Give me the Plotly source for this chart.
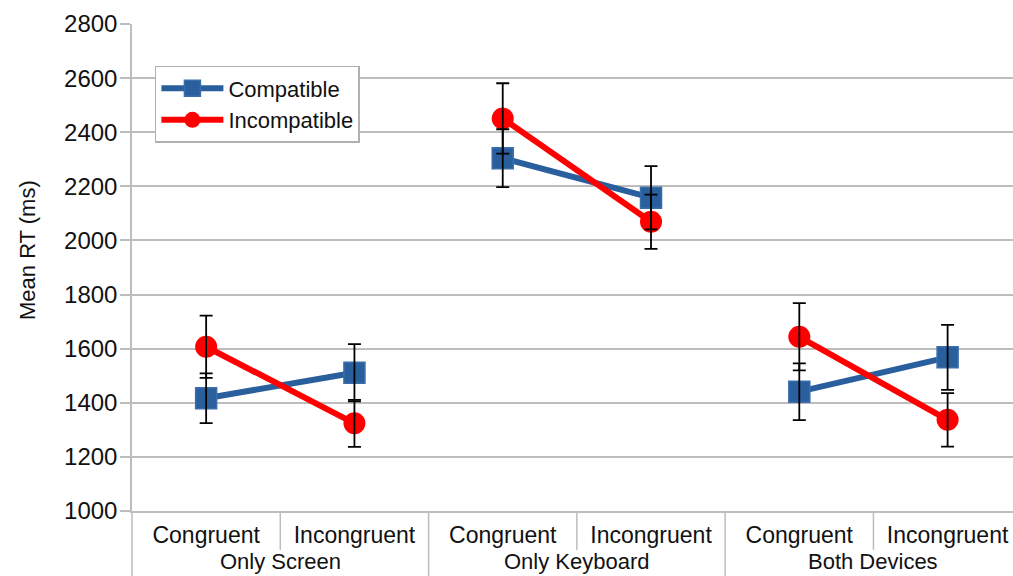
import plotly.graph_objects as go

# Reaction-time means (ms) and error margins per condition
groups = ["Only Screen", "Only Keyboard", "Both Devices"]
conditions = ["Congruent", "Incongruent"]
tick_labels = [c for g in groups for c in conditions]

compatible = [1417, 1511, 2304, 2158, 1441, 1568]
compatible_err = [92, 106, 107, 117, 105, 120]
incompatible = [1607, 1324, 2451, 2069, 1644, 1337]
incompatible_err = [115, 87, 130, 100, 124, 99]

BLUE = "#2A5F9E"
RED = "#FF0000"
GRID = "#BDBDBD"
FONT = "Liberation Sans, Arial, sans-serif"
TEXT = "#111111"

n = len(tick_labels)
xs = list(range(n))
x_range = [-0.5, 5.441]


def split_groups(values):
    """Insert gaps so each group is drawn as its own segment."""
    gx, gy = [], []
    for gi in range(len(groups)):
        for ci in range(len(conditions)):
            k = gi * len(conditions) + ci
            gx.append(xs[k])
            gy.append(values[k])
        gx.append(None)
        gy.append(None)
    return gx, gy


fig = go.Figure()

cx, cy = split_groups(compatible)
fig.add_trace(go.Scatter(
    x=cx, y=cy, name="Compatible", mode="lines+markers",
    line=dict(color=BLUE, width=6),
    marker=dict(symbol="square", size=21, color=BLUE,
                line=dict(color="#3A6EAA", width=1.5)),
    connectgaps=False,
))
ix, iy = split_groups(incompatible)
fig.add_trace(go.Scatter(
    x=ix, y=iy, name="Incompatible", mode="lines+markers",
    line=dict(color=RED, width=6),
    marker=dict(symbol="circle", size=22, color=RED),
    connectgaps=False,
))

# Error bars drawn above the markers
for vals, errs in ((compatible, compatible_err), (incompatible, incompatible_err)):
    fig.add_trace(go.Scatter(
        x=xs, y=vals, mode="markers", showlegend=False, hoverinfo="skip",
        marker=dict(size=1, color="rgba(0,0,0,0)"),
        error_y=dict(type="data", array=errs, visible=True,
                     color="#000000", thickness=1.8, width=6.5),
    ))


def to_paper(xv):
    return (xv - x_range[0]) / (x_range[1] - x_range[0])


shapes = []
# Category separators below the x axis
for b in range(n):
    xb = b - 0.5
    full = (b % len(conditions) == 0)
    shapes.append(dict(
        type="line", xref="paper", yref="paper",
        x0=to_paper(xb), x1=to_paper(xb), y0=0, y1=-0.134 if full else -0.08,
        line=dict(color=GRID, width=1.5),
    ))

annotations = []
for gi, g in enumerate(groups):
    center = (xs[gi * 2] + xs[gi * 2 + 1]) / 2
    annotations.append(dict(
        x=center, y=-0.1335, xref="x", yref="paper", text=g,
        showarrow=False, yanchor="bottom", xanchor="center",
        font=dict(family=FONT, size=22, color=TEXT),
    ))

# Y axis title
annotations.append(dict(
    x=-0.118, y=0.536, xref="paper", yref="paper", text="Mean RT (ms)",
    showarrow=False, textangle=-90, xanchor="center", yanchor="middle",
    font=dict(family=FONT, size=22, color=TEXT),
))

fig.update_layout(
    width=1013, height=576,
    margin=dict(l=132, r=0, t=24, b=65),
    paper_bgcolor="white", plot_bgcolor="white",
    font=dict(family=FONT, color=TEXT),
    shapes=shapes, annotations=annotations,
    legend=dict(
        x=0.026, y=0.914, xanchor="left", yanchor="top",
        bgcolor="white", bordercolor="#B0B0B0", borderwidth=1.5,
        font=dict(family=FONT, size=22, color=TEXT),
        itemwidth=62,
    ),
    xaxis=dict(
        range=x_range, tickmode="array", tickvals=xs, ticktext=tick_labels,
        showgrid=False, zeroline=False, showline=True, linecolor=GRID,
        linewidth=1.5, ticks="", tickfont=dict(family=FONT, size=23, color=TEXT),
        ticklabelstandoff=3,
    ),
    yaxis=dict(
        range=[1000, 2800], dtick=200, tick0=1000,
        showgrid=True, gridcolor=GRID, gridwidth=1.5,
        zeroline=False, showline=True, linecolor=GRID, linewidth=1.5,
        ticks="outside", ticklen=10, tickcolor=GRID, tickwidth=1.5,
        tickfont=dict(family=FONT, size=24, color=TEXT),
        ticklabelstandoff=-2,
    ),
)

fig.write_html("out.html")
